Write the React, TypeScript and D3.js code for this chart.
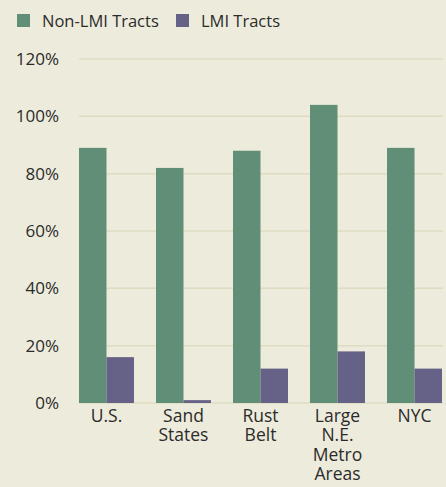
import React from "react";
import * as d3 from "d3";

const categories: string[][] = [["U.S."], ["Sand", "States"], ["Rust", "Belt"], ["Large", "N.E.", "Metro", "Areas"], ["NYC"]];
const nonLMI = [89, 82, 88, 104, 89];
const lmi = [16, 1, 12, 18, 12];
const yTicks = [0, 20, 40, 60, 80, 100, 120];
const seriesNames = ["Non-LMI Tracts", "LMI Tracts"];
const colors = ["#618E76", "#666187"];

export default function App() {
  const W = 446, H = 487;
  const x = d3.scaleBand<number>().domain(d3.range(categories.length)).range([79, 442]).paddingInner(0.286).paddingOuter(0);
  const xs = d3.scaleBand<number>().domain([0, 1]).range([0, x.bandwidth()]);
  const y = d3.scaleLinear().domain([0, 120]).range([403, 59]);
  const font = "'Open Sans', sans-serif";
  const series = [nonLMI, lmi];
  return (
    <svg width={W} height={H} style={{ position: "absolute", left: 0, top: 0, background: "#EDEBDB" }}>
      <rect width={W} height={H} fill="#EDEBDB" />
      {yTicks.map((t) => (
        <g key={t}>
          <line x1={79} x2={443} y1={y(t)} y2={y(t)} stroke="#DEDCC2" strokeWidth={1.5} />
          <text x={59} y={y(t)} dy="0.35em" textAnchor="end" fontFamily={font} fontSize={17} fill="#2b2b2b">{t}%</text>
        </g>
      ))}
      {series.map((vals, si) =>
        vals.map((v, i) => (
          <rect key={si + "-" + i} x={(x(i) as number) + (xs(si) as number)} width={xs.bandwidth()} y={y(v)} height={y(0) - y(v)} fill={colors[si]} />
        ))
      )}
      {categories.map((lines, i) =>
        lines.map((l, j) => (
          <text key={i + "-" + j} x={(x(i) as number) + x.bandwidth() / 2} y={422 + j * 19.3} textAnchor="middle" fontFamily={font} fontSize={17.5} fill="#2b2b2b">{l}</text>
        ))
      )}
      {seriesNames.map((n, si) => {
        const lx = si === 0 ? 17 : 176;
        return (
          <g key={n}>
            <rect x={lx} y={14} width={13} height={13} fill={colors[si]} />
            <text x={lx + 25} y={27} fontFamily={font} fontSize={16.5} fill="#2b2b2b">{n}</text>
          </g>
        );
      })}
    </svg>
  );
}
